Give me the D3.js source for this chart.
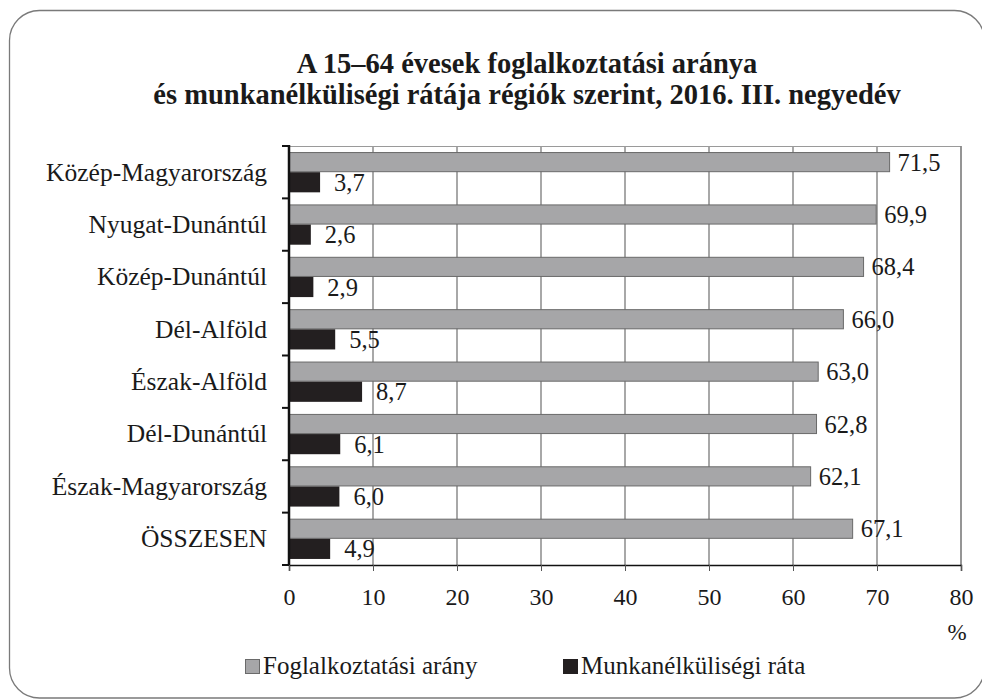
<!DOCTYPE html>
<html>
<head>
<meta charset="utf-8">
<script src="https://cdn.jsdelivr.net/npm/d3@7"></script>
<style>
  html, body { margin: 0; padding: 0; background: #ffffff; }
  svg { display: block; }
  text { font-family: "Liberation Serif", "Times New Roman", serif; fill: #1a1a1a; }
</style>
</head>
<body>
<svg id="chart" width="982" height="699"></svg>
<script>
// ---- data ----
const titleLines = ["A 15–64 évesek foglalkoztatási aránya",
                    "és munkanélküliségi rátája régiók szerint, 2016. III. negyedév"];
const regions = ["Közép-Magyarország", "Nyugat-Dunántúl", "Közép-Dunántúl", "Dél-Alföld",
                 "Észak-Alföld", "Dél-Dunántúl", "Észak-Magyarország", "ÖSSZESEN"];
const employment = [71.5, 69.9, 68.4, 66.0, 63.0, 62.8, 62.1, 67.1];
const unemployment = [3.7, 2.6, 2.9, 5.5, 8.7, 6.1, 6.0, 4.9];
const seriesNames = ["Foglalkoztatási arány", "Munkanélküliségi ráta"];
const xTicks = [0, 10, 20, 30, 40, 50, 60, 70, 80];
const unitLabel = "%";

// ---- layout ----
const svg = d3.select("#chart");
const plot = { left: 289, right: 961, top: 146, bottom: 565 };
const colors = { emp: "#a6a6a8", empStroke: "#6a6a6a", unemp: "#231f20", grid: "#a8a8a8" };
const fmt = v => d3.format(".1f")(v).replace(".", ",");

// outer rounded frame
svg.append("rect")
  .attr("x", 9.5).attr("y", 10.5).attr("width", 975).attr("height", 687.5)
  .attr("rx", 30).attr("ry", 30)
  .attr("fill", "#fff").attr("stroke", "#7a7a7a").attr("stroke-width", 1.3);

// title
svg.append("g").selectAll("text").data(titleLines).join("text")
  .attr("x", 527).attr("y", (d, i) => 73 + i * 30.5)
  .attr("text-anchor", "middle")
  .attr("font-size", 28.5).attr("font-weight", "bold")
  .text(d => d);

// scales
const x = d3.scaleLinear().domain([0, 80]).range([plot.left, plot.right]);
const y = d3.scaleBand().domain(regions).range([plot.top, plot.bottom]).paddingInner(0).paddingOuter(0);
const ySub = d3.scaleBand().domain(["emp", "unemp"]).range([0, y.bandwidth()]).paddingInner(0).paddingOuter(0.3);

// gridlines
svg.append("g").selectAll("line").data(xTicks.filter(t => t > 0 && t < 80)).join("line")
  .attr("x1", d => x(d)).attr("x2", d => x(d))
  .attr("y1", plot.top).attr("y2", plot.bottom)
  .attr("stroke", colors.grid).attr("stroke-width", 2);

// plot border (top & right)
svg.append("line").attr("x1", plot.left).attr("x2", plot.right).attr("y1", plot.top + 0.5).attr("y2", plot.top + 0.5)
  .attr("stroke", "#9a9a9a").attr("stroke-width", 1.2);
svg.append("line").attr("x1", x(80)).attr("x2", x(80)).attr("y1", plot.top).attr("y2", plot.bottom)
  .attr("stroke", "#8a8a8a").attr("stroke-width", 1.8);

// bars
const rows = regions.map((r, i) => ({ region: r, emp: employment[i], unemp: unemployment[i] }));
const g = svg.append("g");
const rowG = g.selectAll("g").data(rows).join("g")
  .attr("transform", d => `translate(0,${y(d.region)})`);

rowG.append("rect")
  .attr("x", x(0)).attr("y", ySub("emp") + 0.5)
  .attr("width", d => x(d.emp) - x(0)).attr("height", ySub.bandwidth() - 1)
  .attr("fill", colors.emp).attr("stroke", colors.empStroke).attr("stroke-width", 1);
rowG.append("rect")
  .attr("x", x(0)).attr("y", ySub("unemp"))
  .attr("width", d => x(d.unemp) - x(0)).attr("height", ySub.bandwidth())
  .attr("fill", colors.unemp);

// value labels
rowG.append("text")
  .attr("x", d => x(d.emp) + 8).attr("y", ySub("emp") + ySub.bandwidth() - 1.5)
  .attr("font-size", 24.5).text(d => fmt(d.emp));
rowG.append("text")
  .attr("x", d => x(d.unemp) + 14).attr("y", ySub("unemp") + ySub.bandwidth() - 1.5)
  .attr("font-size", 24.5).text(d => fmt(d.unemp));

// left axis
const yAxis = d3.axisLeft(y).tickSize(0).tickPadding(22).tickFormat(d => d);
const yAx = svg.append("g").attr("transform", `translate(${plot.left},0)`).call(yAxis);
yAx.select(".domain").remove();
yAx.selectAll("text").attr("font-size", 25.5).attr("fill", "#1a1a1a")
  .attr("font-family", "Liberation Serif, serif").attr("dy", "0.33em");
// category boundary ticks
const bounds = regions.map(r => y(r)).concat([plot.bottom]);
svg.append("g").selectAll("line").data(bounds).join("line")
  .attr("x1", plot.left - 7).attr("x2", plot.left)
  .attr("y1", d => d).attr("y2", d => d)
  .attr("stroke", "#111").attr("stroke-width", 2);
svg.append("line").attr("x1", plot.left).attr("x2", plot.left).attr("y1", plot.top - 1).attr("y2", plot.bottom + 1)
  .attr("stroke", "#111").attr("stroke-width", 2.5);

// bottom axis
const xAxis = d3.axisBottom(x).tickValues(xTicks).tickSize(6).tickPadding(17).tickFormat(d3.format("d"));
const xAx = svg.append("g").attr("transform", `translate(0,${plot.bottom})`).call(xAxis);
xAx.select(".domain").attr("stroke", "#111").attr("stroke-width", 1.5);
xAx.selectAll(".tick line").attr("stroke", "#555").attr("stroke-width", 1);
xAx.selectAll("text").attr("font-size", 24).attr("fill", "#1a1a1a")
  .attr("font-family", "Liberation Serif, serif");

// unit
svg.append("text").attr("x", 957).attr("y", 640).attr("text-anchor", "middle")
  .attr("font-size", 23).text(unitLabel);

// legend
const legendX = [245, 563];
const leg = svg.append("g").selectAll("g").data(seriesNames).join("g")
  .attr("transform", (d, i) => `translate(${legendX[i]},659)`);
leg.append("rect").attr("x", 0.5).attr("y", 0.5).attr("width", 14).attr("height", 14)
  .attr("fill", (d, i) => i === 0 ? colors.emp : colors.unemp)
  .attr("stroke", (d, i) => i === 0 ? colors.empStroke : colors.unemp).attr("stroke-width", 1);
leg.append("text").attr("x", 18).attr("y", 14.5).attr("font-size", 25).text(d => d);
</script>
</body>
</html>
